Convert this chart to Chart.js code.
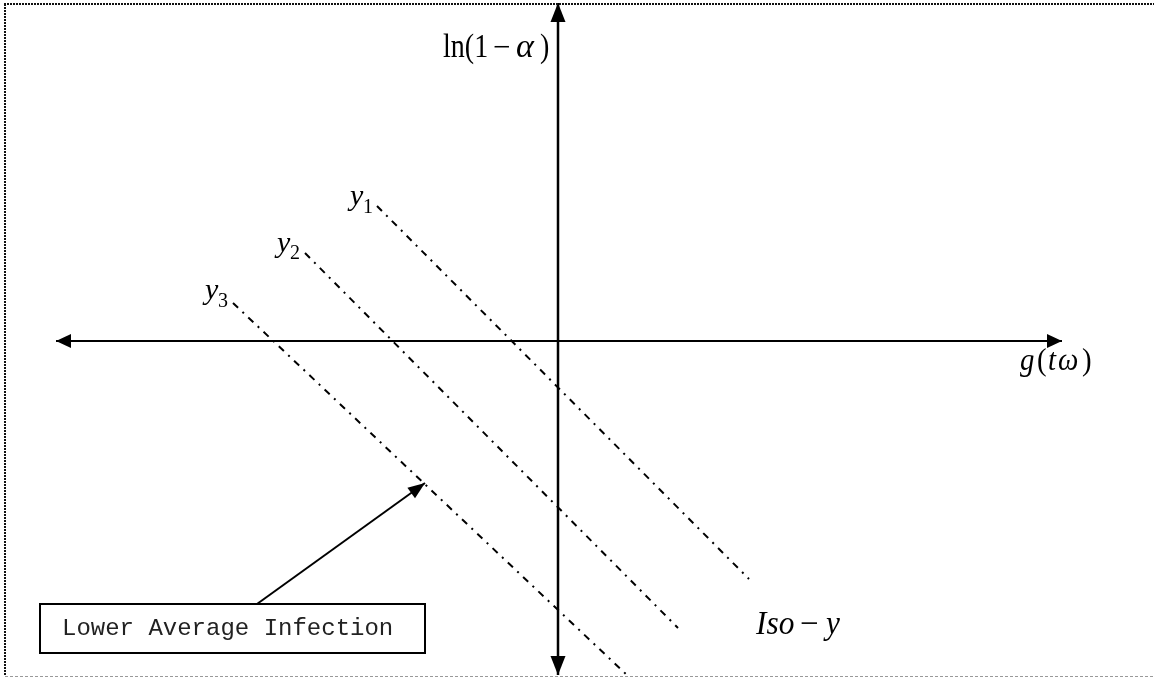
<!DOCTYPE html>
<html>
<head>
<meta charset="utf-8">
<script src="https://cdn.jsdelivr.net/npm/chart.js@4/dist/chart.umd.min.js"></script>
<style>
  html, body { margin: 0; padding: 0; background: #fff; }
  canvas { display: block; }
</style>
</head>
<body>
<canvas id="isoChart" width="1154" height="677"></canvas>
<script>
// view window (data units, origin where the two axes cross)
const viewX = [-5.58, 5.96];
const viewY = [-3.36, 3.41];

// axes ends
const xAxisEnds = [-5.02, 5.04];
const yAxisEnds = [-3.34, 3.38];

// iso-y lines
const isoNames = ['1', '2', '3'];
const isoStartX = [-1.81, -2.53, -3.25];
const isoStartY = [1.35, 0.88, 0.38];
const isoEndX = [1.91, 1.20, 0.70];
const isoEndY = [-2.38, -2.87, -3.35];

// pointer from the note box to y3
const pointerX = [-3.01, -1.33];
const pointerY = [-2.63, -1.42];

const noteText = 'Lower Average Infection';

var SERIF = '"Liberation Serif", "Times New Roman", serif';
var ctx = document.getElementById('isoChart');

var datasets = [];
datasets.push({
    label: 'xaxis',
    data: [{ x: xAxisEnds[0], y: 0 }, { x: xAxisEnds[1], y: 0 }],
    borderColor: '#000', borderWidth: 2, arrow: 'both', head: [15, 7]
});
datasets.push({
    label: 'yaxis',
    data: [{ x: 0, y: yAxisEnds[0] }, { x: 0, y: yAxisEnds[1] }],
    borderColor: '#000', borderWidth: 2.5, arrow: 'both', head: [19, 7.5]
});
isoNames.forEach(function (n, i) {
    datasets.push({
        label: 'y' + n,
        data: [{ x: isoStartX[i], y: isoStartY[i] }, { x: isoEndX[i], y: isoEndY[i] }],
        borderColor: '#000', borderWidth: 2,
        borderDash: [7, 6, 2, 6]
    });
});
datasets.push({
    label: 'pointer',
    data: [{ x: pointerX[0], y: pointerY[0] }, { x: pointerX[1], y: pointerY[1] }],
    borderColor: '#000', borderWidth: 2, arrow: 'end', head: [17, 6.5]
});
datasets.forEach(function (d) {
    d.showLine = true;
    d.pointRadius = 0;
    d.fill = false;
    d.tension = 0;
});

// text pieces: offsets in px from the anchor, sx = horizontal squeeze
var labels = [
    { x: -1.15, y: 2.84, runs: [
        { t: 'ln(1', dx: 0, size: 33, sx: 0.85 },
        { t: '−', dx: 50, size: 31 },
        { t: 'α', dx: 73, size: 34, it: true },
        { t: ')', dx: 97, size: 33, sx: 0.85 }] },
    { x: 4.62, y: -0.29, runs: [
        { t: 'g', dx: 0, size: 32, it: true, sx: 0.9 },
        { t: '(', dx: 17, size: 32, sx: 0.9 },
        { t: 't', dx: 28, size: 32, it: true, sx: 0.9 },
        { t: 'ω', dx: 38, size: 32, it: true, sx: 0.9 },
        { t: ')', dx: 62, size: 32, sx: 0.9 }] },
    { x: 1.98, y: -2.93, runs: [
        { t: 'Iso', dx: 0, size: 33, it: true, sx: 0.95 },
        { t: '−', dx: 44, size: 33 },
        { t: 'y', dx: 70, size: 33, it: true, sx: 0.95 }] },
    { x: -2.08, y: 1.36, runs: [
        { t: 'y', dx: 0, size: 30, it: true },
        { t: isoNames[0], dx: 13, dy: 8, size: 20 }] },
    { x: -2.81, y: 0.89, runs: [
        { t: 'y', dx: 0, size: 30, it: true },
        { t: isoNames[1], dx: 13, dy: 7, size: 20 }] },
    { x: -3.53, y: 0.42, runs: [
        { t: 'y', dx: 0, size: 30, it: true },
        { t: isoNames[2], dx: 13, dy: 8, size: 20 }] }
];

const drawHead = (c, tip, from, len, half) => {
    var a = Math.atan2(tip.y - from.y, tip.x - from.x);
    c.beginPath();
    c.moveTo(tip.x, tip.y);
    c.lineTo(tip.x - len * Math.cos(a) + half * Math.sin(a), tip.y - len * Math.sin(a) - half * Math.cos(a));
    c.lineTo(tip.x - len * Math.cos(a) - half * Math.sin(a), tip.y - len * Math.sin(a) + half * Math.cos(a));
    c.closePath();
    c.fill();
};

var sketchPlugin = {
    id: 'sketch',
    beforeDraw: function (chart) {
        var c = chart.ctx;
        c.save();
        c.fillStyle = '#fff';
        c.fillRect(0, 0, chart.width, chart.height);
        c.restore();
    },
    afterDatasetsDraw: function (chart) {
        var c = chart.ctx;
        var sx = chart.scales.x, sy = chart.scales.y;
        c.save();
        c.fillStyle = '#000';

        // arrow heads
        chart.data.datasets.forEach(function (d, i) {
            if (!d.arrow) return;
            var pts = chart.getDatasetMeta(i).data;
            var first = pts[0], last = pts[pts.length - 1];
            drawHead(c, last, first, d.head[0], d.head[1]);
            if (d.arrow === 'both') drawHead(c, first, last, d.head[0], d.head[1]);
        });

        // math-style labels
        c.textBaseline = 'alphabetic';
        c.textAlign = 'left';
        labels.forEach(function (lb) {
            var px = sx.getPixelForValue(lb.x), py = sy.getPixelForValue(lb.y);
            lb.runs.forEach(function (r) {
                c.save();
                c.font = (r.it ? 'italic ' : '') + r.size + 'px ' + SERIF;
                c.translate(px + r.dx, py + (r.dy || 0));
                c.scale(r.sx || 1, 1);
                c.fillText(r.t, 0, 0);
                c.restore();
            });
        });

        // note box
        var bl = sx.getPixelForValue(-5.18), br = sx.getPixelForValue(-1.33);
        var bt = sy.getPixelForValue(-2.63), bb = sy.getPixelForValue(-3.12);
        c.strokeStyle = '#000';
        c.lineWidth = 2;
        c.strokeRect(bl, bt, br - bl, bb - bt);
        c.font = '24px "Courier New", "Liberation Mono", monospace';
        c.fillStyle = '#222';
        c.fillText(noteText, sx.getPixelForValue(-4.96), sy.getPixelForValue(-2.94));

        // dotted frame (top, left, bottom)
        c.setLineDash([2, 1]);
        c.lineWidth = 2;
        c.strokeStyle = '#111';
        c.beginPath();
        c.moveTo(4, 4); c.lineTo(chart.width, 4);
        c.moveTo(5, 4); c.lineTo(5, 676);
        c.stroke();
        c.setLineDash([3, 2]);
        c.lineWidth = 1;
        c.strokeStyle = '#999';
        c.beginPath();
        c.moveTo(5, 676.5); c.lineTo(chart.width, 676.5);
        c.stroke();
        c.restore();
    }
};

new Chart(ctx, {
    type: 'scatter',
    data: { datasets: datasets },
    options: {
        responsive: false,
        animation: false,
        layout: { padding: 0 },
        scales: {
            x: { type: 'linear', min: viewX[0], max: viewX[1], display: false },
            y: { type: 'linear', min: viewY[0], max: viewY[1], display: false }
        },
        plugins: {
            legend: { display: false },
            tooltip: { enabled: false },
            title: { display: false }
        }
    },
    plugins: [sketchPlugin]
});
</script>
</body>
</html>
